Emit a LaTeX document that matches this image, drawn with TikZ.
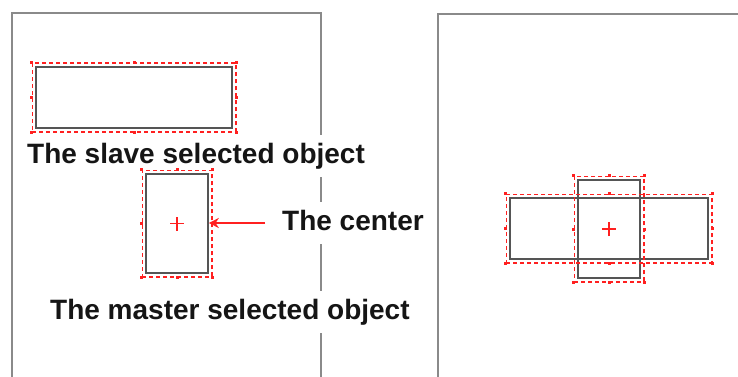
\documentclass[tikz,border=0pt]{standalone}
\usepackage{fontspec}
\setmainfont{Liberation Sans}
\usetikzlibrary{arrows.meta,positioning,fit}
\definecolor{framegray}{HTML}{8A8A8A}
\definecolor{objgray}{HTML}{555555}
\definecolor{selred}{HTML}{FF2020}
\definecolor{inkblack}{HTML}{151515}

\begin{document}
\begin{tikzpicture}[x=1pt,y=-1pt,>={Stealth[length=10pt,width=10pt]},font=\fontsize{28}{30}\selectfont\bfseries,
  frame/.style={draw=framegray,line width=2pt},
  obj/.style={draw=objgray,line width=1.6pt,inner sep=0pt},
  sel/.style={draw=selred,line width=1.4pt,dash pattern=on 4pt off 3pt,inner sep=3pt},
  handle/.style={fill=selred,minimum size=3pt,inner sep=0pt},
  caption/.style={fill=white,text=inkblack,inner xsep=2pt,inner ysep=8pt,
    text height=20pt,text depth=6pt,anchor=base west},
  pointer/.style={->,draw=selred,line width=2pt}]
\useasboundingbox (0,0) rectangle (738,377);
% panels
\draw[frame] (12,377) -- (12,13) -- (321,13) -- (321,377);
\draw[frame] (438,377) -- (438,14) -- (738,14);
% captions
\node[caption] (slavetext) at (25,163) {The slave selected object};
\node[caption] (ctr) at (280,230) {The center};
\node[caption] (mastertext) at (48,319) {The master selected object};
% objects
\node[obj,minimum width=196pt,minimum height=61pt] (slave) at (134,97.5) {};
\node[obj,minimum width=62pt,minimum height=99pt] (master) at (177,223.5) {};
\node[obj,minimum width=198pt,minimum height=61pt] (slave2) at (609,228.5) {};
\node[obj,minimum width=62pt,minimum height=98pt] (master2) at (609,229) {};
% selection boxes with handles
\foreach \o in {slave,master,slave2,master2}{
  \node[sel,fit=(\o)] (\o-sel) {};
  \foreach \a in {north west,north,north east,east,south east,south,south west,west}
    \node[handle] at (\o-sel.\a) {};
}
% centre marks
\foreach \o in {master,master2}
  \draw[selred,line width=1.8pt] ([xshift=-7pt]\o.center) -- ([xshift=7pt]\o.center)
    ([yshift=-7pt]\o.center) -- ([yshift=7pt]\o.center);
\draw[pointer] ([xshift=-15pt]ctr.west) -- (master.east |- ctr.west);
\end{tikzpicture}
\end{document}
